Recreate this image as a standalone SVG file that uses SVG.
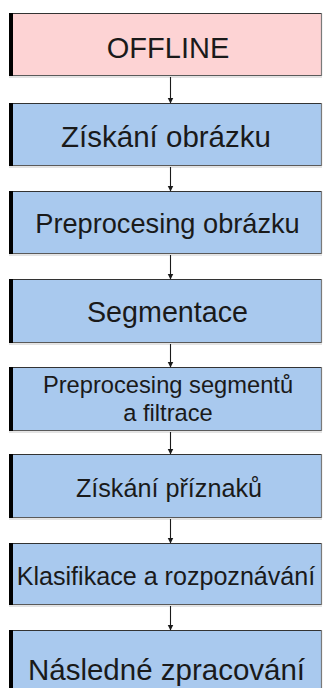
<svg xmlns="http://www.w3.org/2000/svg" width="323" height="688" viewBox="0 0 323 688">
<style>
.box{stroke:none}
.pink{fill:#fdd3d4}
.blue{fill:#a9c9ee}
.top{stroke:#333;stroke-width:1.2}
.bot{stroke:#5a5a5a;stroke-width:1.2}
.sh{stroke:#c8c8c8;stroke-width:1}
.rgt{stroke:#7a7a7a;stroke-width:1.2}
.lb{fill:#000}
text{font-family:"Liberation Sans",Arial,sans-serif;fill:#1a1a1a;text-anchor:middle}
.conn line{stroke:#1a1a1a;stroke-width:1.1}
</style>
<defs>
<marker id="ah" markerWidth="6" markerHeight="7" refX="5.5" refY="3.5" orient="auto" markerUnits="userSpaceOnUse">
<path d="M0,0.5 L6,3.5 L0,6.5 Z" fill="#1a1a1a"/>
</marker>
</defs>
<rect x="0" y="0" width="323" height="688" fill="#fff"/>
<g id="n1">
<rect class="box pink" x="9" y="13" width="313" height="63"/>
<line class="top" x1="9" y1="13.5" x2="322" y2="13.5"/>
<line class="bot" x1="9" y1="75.5" x2="322" y2="75.5"/>
<line class="sh" x1="9" y1="77" x2="322" y2="77"/>
<line class="rgt" x1="321.5" y1="13" x2="321.5" y2="76"/>
<rect class="lb" x="9" y="13" width="4" height="63"/>
<text x="168" y="58" font-size="29">OFFLINE</text>
</g>
<g id="n2">
<rect class="box blue" x="9" y="103" width="313" height="63"/>
<line class="top" x1="9" y1="103.5" x2="322" y2="103.5"/>
<line class="bot" x1="9" y1="165.5" x2="322" y2="165.5"/>
<line class="sh" x1="9" y1="167" x2="322" y2="167"/>
<line class="rgt" x1="321.5" y1="103" x2="321.5" y2="166"/>
<rect class="lb" x="9" y="103" width="4" height="63"/>
<text x="166" y="146.5" font-size="29.5">Získání obrázku</text>
</g>
<g id="n3">
<rect class="box blue" x="9" y="191" width="313" height="63"/>
<line class="top" x1="9" y1="191.5" x2="322" y2="191.5"/>
<line class="bot" x1="9" y1="253.5" x2="322" y2="253.5"/>
<line class="sh" x1="9" y1="255" x2="322" y2="255"/>
<line class="rgt" x1="321.5" y1="191" x2="321.5" y2="254"/>
<rect class="lb" x="9" y="191" width="4" height="63"/>
<text x="167.5" y="233" font-size="27.2">Preprocesing obrázku</text>
</g>
<g id="n4">
<rect class="box blue" x="9" y="279" width="313" height="64"/>
<line class="top" x1="9" y1="279.5" x2="322" y2="279.5"/>
<line class="bot" x1="9" y1="342.5" x2="322" y2="342.5"/>
<line class="sh" x1="9" y1="344" x2="322" y2="344"/>
<line class="rgt" x1="321.5" y1="279" x2="321.5" y2="343"/>
<rect class="lb" x="9" y="279" width="4" height="64"/>
<text x="167.5" y="322" font-size="28.7">Segmentace</text>
</g>
<g id="n5">
<rect class="box blue" x="9" y="367" width="313" height="64"/>
<line class="top" x1="9" y1="367.5" x2="322" y2="367.5"/>
<line class="bot" x1="9" y1="430.5" x2="322" y2="430.5"/>
<line class="sh" x1="9" y1="432" x2="322" y2="432"/>
<line class="rgt" x1="321.5" y1="367" x2="321.5" y2="431"/>
<rect class="lb" x="9" y="367" width="4" height="64"/>
<text x="168" y="393" font-size="23.7">Preprocesing segmentů</text>
<text x="168" y="421" font-size="23.7">a filtrace</text>
</g>
<g id="n6">
<rect class="box blue" x="9" y="454" width="313" height="64"/>
<line class="top" x1="9" y1="454.5" x2="322" y2="454.5"/>
<line class="bot" x1="9" y1="517.5" x2="322" y2="517.5"/>
<line class="sh" x1="9" y1="519" x2="322" y2="519"/>
<line class="rgt" x1="321.5" y1="454" x2="321.5" y2="518"/>
<rect class="lb" x="9" y="454" width="4" height="64"/>
<text x="169" y="497" font-size="25.2">Získání příznaků</text>
</g>
<g id="n7">
<rect class="box blue" x="9" y="543" width="313" height="62"/>
<line class="top" x1="9" y1="543.5" x2="322" y2="543.5"/>
<line class="bot" x1="9" y1="604.5" x2="322" y2="604.5"/>
<line class="sh" x1="9" y1="606" x2="322" y2="606"/>
<line class="rgt" x1="321.5" y1="543" x2="321.5" y2="605"/>
<rect class="lb" x="9" y="543" width="4" height="62"/>
<text x="166" y="585" font-size="25.1">Klasifikace a rozpoznávání</text>
</g>
<g id="n8">
<rect class="box blue" x="9" y="630" width="313" height="70"/>
<line class="top" x1="9" y1="630.5" x2="322" y2="630.5"/>
<line class="rgt" x1="321.5" y1="630" x2="321.5" y2="688"/>
<rect class="lb" x="9" y="630" width="4" height="70"/>
<text x="166.5" y="680" font-size="29.5">Následné zpracování</text>
</g>
<g id="connectors" class="conn">
<line x1="170.5" y1="77" x2="170.5" y2="103" marker-end="url(#ah)"/>
<line x1="170.5" y1="167" x2="170.5" y2="191" marker-end="url(#ah)"/>
<line x1="170.5" y1="255" x2="170.5" y2="279" marker-end="url(#ah)"/>
<line x1="170.5" y1="344" x2="170.5" y2="367" marker-end="url(#ah)"/>
<line x1="170.5" y1="432" x2="170.5" y2="454" marker-end="url(#ah)"/>
<line x1="170.5" y1="519" x2="170.5" y2="543" marker-end="url(#ah)"/>
<line x1="170.5" y1="606" x2="170.5" y2="630" marker-end="url(#ah)"/>
</g>
</svg>
